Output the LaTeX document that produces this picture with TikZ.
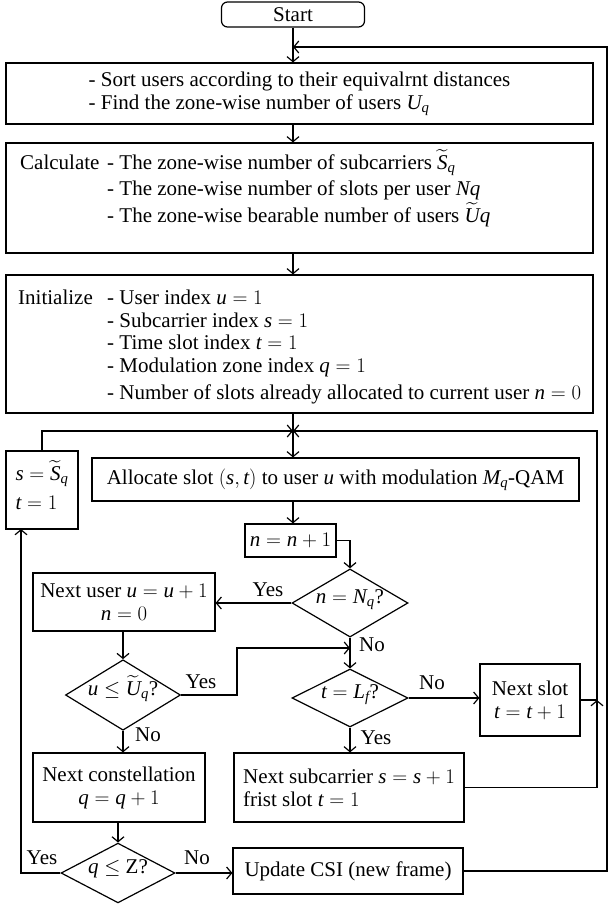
\documentclass[tikz,border=0pt]{standalone}
\usepackage{amsmath}
\usepackage{fontspec}
\setmainfont{Liberation Serif}
\usetikzlibrary{shapes.geometric,arrows.meta,calc}
\newcommand{\mi}[1]{\textit{#1}}
\newcommand{\tl}[1]{\smash{\widetilde{\textit{#1}}}}
\begin{document}
\begin{tikzpicture}[x=1pt,y=-1pt,
  every node/.style={font=\fontsize{21}{23}\selectfont},
  fbox/.style={draw, line width=1.2pt, inner sep=0pt, align=center},
  dia/.style={draw, diamond, line width=1.2pt, inner sep=0pt, minimum width=116pt, minimum height=58pt},
  lbl/.style={inner sep=0pt},
  arr/.style={line width=1.2pt, -{Straight Barb[length=5pt,width=12pt]}},
  ln/.style={line width=1.2pt}]
\useasboundingbox (0,0) rectangle (608,905);

% boxes
\node[fbox, rounded corners=6pt, minimum width=143pt, minimum height=25pt] (start) at (293,14.5) {Start};
\node[fbox, minimum width=587pt, minimum height=61pt, align=left] (box1) at (299.5,93.5)
  {- Sort users according to their equivalrnt distances\\- Find the zone-wise number of users $\mi{U}_{\mi{q}}$};

\node[fbox, minimum width=587pt, minimum height=110pt] (box2) at (299.5,198) {};
\node[lbl, anchor=base west] (calc) at (20,169) {Calculate};
\node[lbl, anchor=base west] (c1) at (107,169) {- The zone-wise number of subcarriers $\tl{S}_{\mi{q}}$};
\node[lbl, anchor=base west] (c2) at (107,195) {- The zone-wise number of slots per user \mi{Nq}};
\node[lbl, anchor=base west] (c3) at (107,222) {- The zone-wise bearable number of users $\tl{U}\mi{q}$};

\node[fbox, minimum width=587pt, minimum height=138pt] (box3) at (299.5,344) {};
\node[lbl, anchor=base west] (init) at (18,304) {Initialize};
\node[lbl, anchor=base west] (i1) at (107,304) {- User index $\mi{u} = 1$};
\node[lbl, anchor=base west] (i2) at (107,327) {- Subcarrier index $\mi{s} = 1$};
\node[lbl, anchor=base west] (i3) at (107,349) {- Time slot index $\mi{t} = 1$};
\node[lbl, anchor=base west] (i4) at (107,372) {- Modulation zone index $\mi{q} = 1$};
\node[lbl, anchor=base west] (i5) at (107,399) {- Number of slots already allocated to current user $\mi{n} = 0$};

\node[fbox, minimum width=72pt, minimum height=78pt, align=left] (sbox) at (42,490) {$\mi{s} = \tl{S}_{\mi{q}}$\\[6pt]$\mi{t} = 1$};
\node[fbox, minimum width=487pt, minimum height=43pt] (alloc) at (335.5,479.5) {Allocate slot $(\mi{s}, \mi{t})$ to user \mi{u} with modulation $\mi{M}_{\mi{q}}$-QAM};
\node[fbox, minimum width=91pt, minimum height=33pt] (nn) at (290.5,540.5) {$\mi{n} = \mi{n} + 1$};
\node[dia] (dn) at (350,603) {\smash{$\mi{n} = \mi{N}_{\mi{q}}$?}};
\node[fbox, minimum width=182pt, minimum height=58pt] (nextuser) at (124,602) {Next user $\mi{u} = \mi{u} + 1$\\$\mi{n} = 0$};
\node[dia, minimum width=115pt, minimum height=56pt] (du) at (123,695) {\smash{$\mi{u} \leq \tl{U}_{\mi{q}}$?}};
\node[dia] (dt) at (350,698) {\smash{$\mi{t} = \mi{L}_{\mi{f}}$?}};
\node[fbox, minimum width=100pt, minimum height=72pt] (nextslot) at (530,700) {Next slot\\$\mi{t} = \mi{t} + 1$};
\node[fbox, minimum width=230pt, minimum height=69pt, align=left] (nextsub) at (349,787.5) {Next subcarrier $\mi{s} = \mi{s} + 1$\\frist slot $\mi{t} = 1$};
\node[fbox, minimum width=172pt, minimum height=69pt] (nextconst) at (119,787.5) {Next constellation\\$\mi{q} = \mi{q} + 1$};
\node[dia, minimum width=114pt, minimum height=56pt] (dq) at (118,873) {\smash{$\mi{q} \leq$ Z?}};
\node[fbox, minimum width=230pt, minimum height=46pt] (update) at (348,871) {Update CSI (new frame)};

% labels
\node[lbl] (yes1) at (268,590) {Yes};
\node[lbl] (no1) at (372,645) {No};
\node[lbl] (yes2) at (201,682) {Yes};
\node[lbl] (no2) at (148,735) {No};
\node[lbl] (no3) at (432,683) {No};
\node[lbl] (yes3) at (376,738) {Yes};
\node[lbl] (yes4) at (42,858) {Yes};
\node[lbl] (no4) at (197,858) {No};

% helper coordinates
\coordinate (rtop) at (607,47);
\coordinate (lp) at (293,431);
\coordinate (rr) at (597,431);
\coordinate (jn) at (237,648);
\coordinate (lv) at (21,529);

% connectors
\draw[arr] (start.south) -- (start.south |- box1.north);
\draw[arr] (update.east) -- (update.east -| rtop) -- (rtop) -- (start.south |- rtop);
\draw[arr] (start.south |- box1.south) -- (start.south |- box2.north);
\draw[arr] (start.south |- box2.south) -- (start.south |- box3.north);
\draw[arr] (start.south |- box3.south) -- (start.south |- alloc.north);
\draw[arr] (sbox.north) |- (lp);
\draw[arr] (nextslot.east) -| (rr) -- (lp);
\draw[arr] (nextsub.east) -| (nextslot.east -| rr);
\draw[arr] (start.south |- alloc.south) -- (start.south |- nn.north);
\draw[arr] (nn.east) -| (dn.north);
\draw[arr] (dn.west) -- (dn.west -| nextuser.east);
\draw[arr] (dn.south) -- (dt.north);
\draw[arr] (nextuser.south -| du.north) -- (du.north);
\draw[arr] (du.east) -| (jn) -- (jn -| dn.south);
\draw[arr] (du.south) -- (du.south |- nextconst.north);
\draw[arr] (dt.east) -- (dt.east -| nextslot.west);
\draw[arr] (dt.south) -- (dt.south |- nextsub.north);
\draw[arr] (nextconst.south -| dq.north) -- (dq.north);
\draw[arr] (dq.west) -| (lv);
\draw[arr] (dq.east) -- (dq.east -| update.west);
\end{tikzpicture}
\end{document}
